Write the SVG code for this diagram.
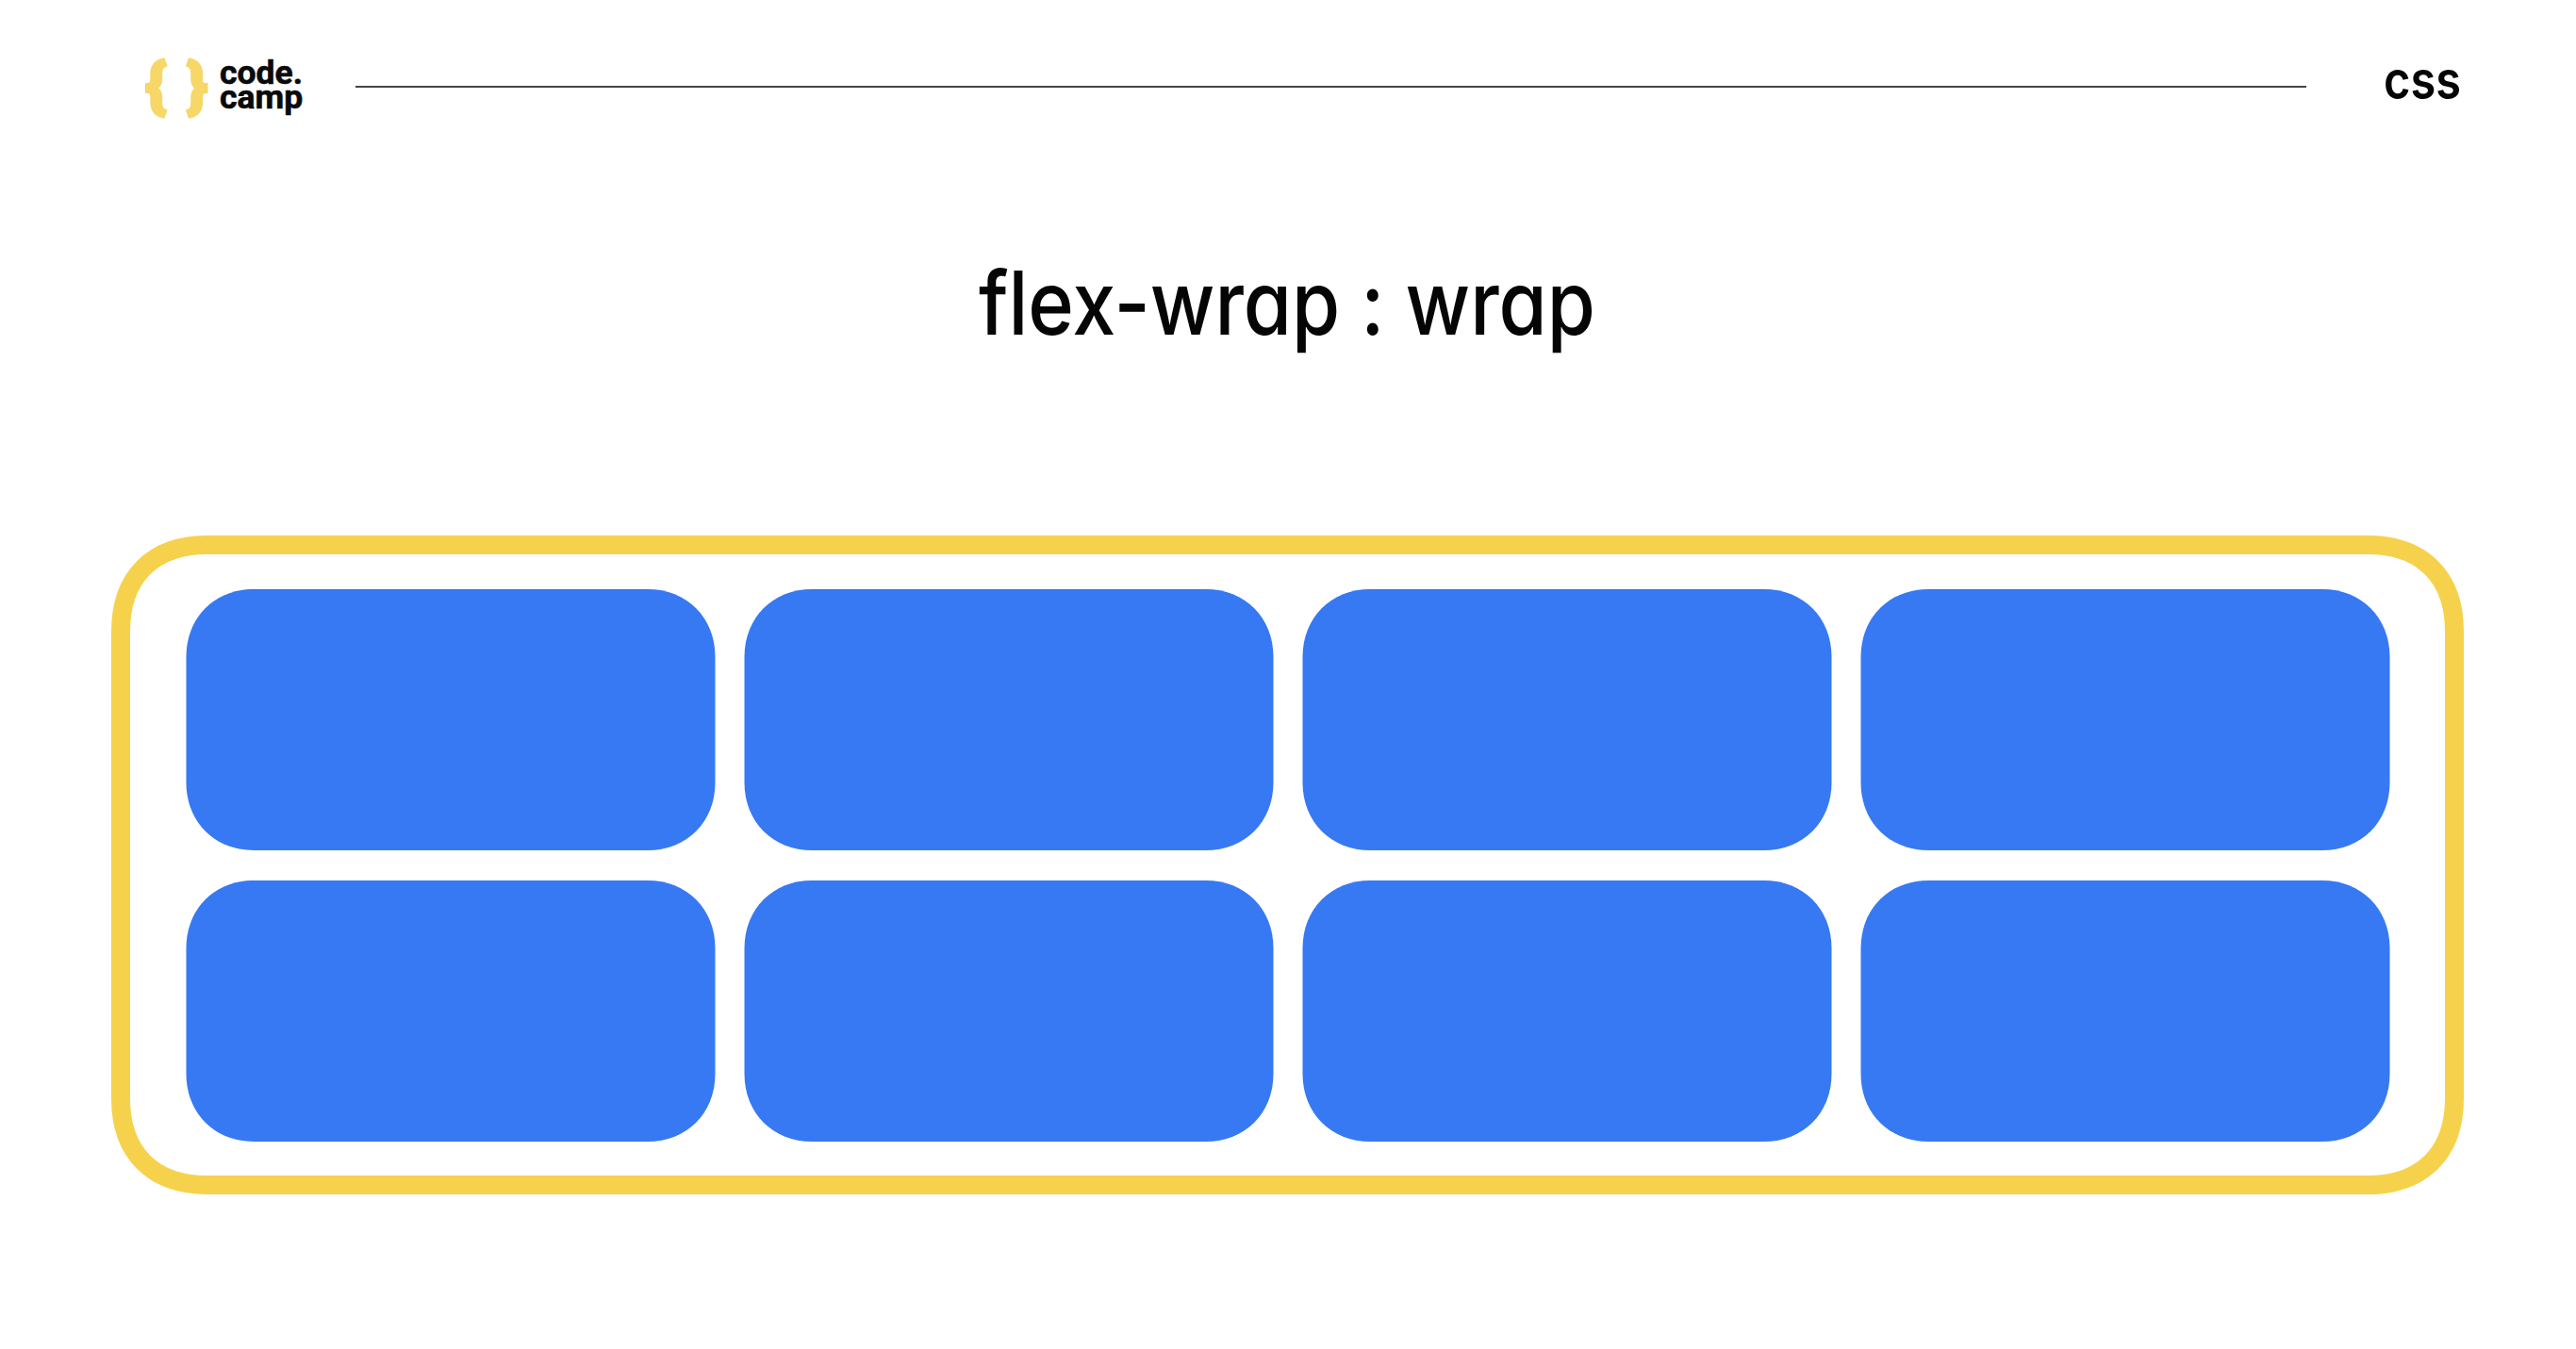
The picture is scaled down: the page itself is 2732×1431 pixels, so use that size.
<svg xmlns="http://www.w3.org/2000/svg" width="2732" height="1431" viewBox="0 0 2732 1431">
<style>
.box{fill:#3679f3}
.frame{fill:none;stroke:#f6d24c;stroke-width:20}
.rule{stroke:#444;stroke-width:2;fill:none}
.logo{font-family:"Roboto","Liberation Sans",sans-serif;font-weight:700;font-size:35.5px;fill:#0a0a0a;stroke:#0a0a0a;stroke-width:.6}
.brace{font-family:"Roboto","Liberation Sans",sans-serif;font-weight:700;font-size:62px;fill:#f6d767;stroke:#f6d767;stroke-width:5}
.head{font-family:"Inter","Noto Sans",sans-serif;font-feature-settings:"cv11";fill:#050505}
</style>
<defs>
<path id="card" d="M72,0H489C531,0 561,30 561,72V205C561,247 531,277 489,277H72C30,277 0,247 0,205V72C0,30 30,0 72,0Z"/>
</defs>
<rect width="2732" height="1431" fill="#fff"/>
<g id="logo">
<text class="brace" x="155" y="112">{</text>
<text class="brace" x="199" y="112">}</text>
<text class="logo" x="233" y="89">code.</text>
<text class="logo" x="233" y="115">camp</text>
</g>
<g id="connectors"><line class="rule" x1="377" y1="92" x2="2446" y2="92"/></g>
<g id="topic"><text class="head" x="2528" y="105" font-size="56" font-weight="600" textLength="82" lengthAdjust="spacingAndGlyphs">css</text></g>
<g id="title"><text class="head" x="1038" y="355" font-size="94" font-weight="500" textLength="654" lengthAdjust="spacingAndGlyphs">flex-wrap : wrap</text></g>
<g id="container"><path class="frame" d="M220,578H2511C2569,578 2603,612 2603,670V1165C2603,1223 2569,1257 2511,1257H220C162,1257 128,1223 128,1165V670C128,612 162,578 220,578Z"/></g>
<g id="item-1"><use href="#card" class="box" x="197.5" y="625"/></g>
<g id="item-2"><use href="#card" class="box" x="789.5" y="625"/></g>
<g id="item-3"><use href="#card" class="box" x="1381.5" y="625"/></g>
<g id="item-4"><use href="#card" class="box" x="1973.5" y="625"/></g>
<g id="item-5"><use href="#card" class="box" x="197.5" y="934"/></g>
<g id="item-6"><use href="#card" class="box" x="789.5" y="934"/></g>
<g id="item-7"><use href="#card" class="box" x="1381.5" y="934"/></g>
<g id="item-8"><use href="#card" class="box" x="1973.5" y="934"/></g>
</svg>
